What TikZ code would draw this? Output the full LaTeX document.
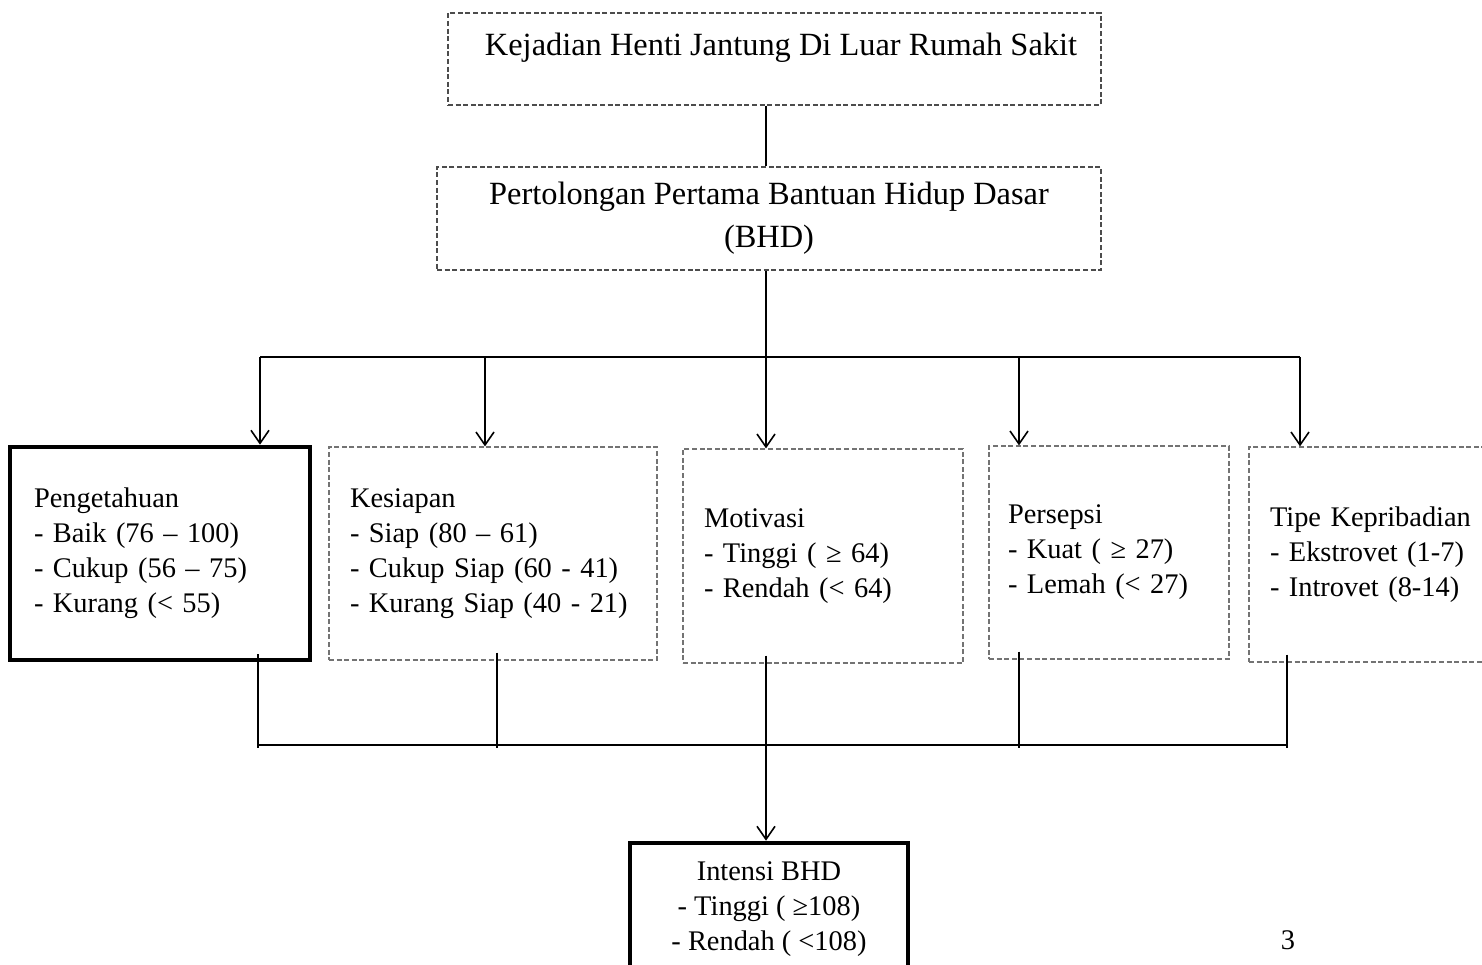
\documentclass[tikz,border=0pt]{standalone}
\usepackage{fontspec}
\setmainfont{Liberation Serif}
\usetikzlibrary{arrows.meta}
\begin{document}
\begin{tikzpicture}[x=0.5pt,y=-0.5pt,
  font=\fontsize{14.2pt}{17.5pt}\selectfont,
  bigtext/.style={font=\fontsize{16.2pt}{21.5pt}\selectfont},
  dbox/.style={draw=black!55, line width=0.6pt, dash pattern=on 2.5pt off 1.3pt, rectangle, inner sep=0pt},
  tbox/.style={draw=black, line width=2.3pt, rectangle, inner sep=0pt},
  conn/.style={line width=0.8pt},
  bus/.style={line width=1.4pt},
  arr/.style={line width=0.8pt, -{Straight Barb[length=6.5pt,width=9pt]}},
]
\useasboundingbox (0,0) rectangle (1482,964);

% top boxes
\node[dbox, draw=black!70, minimum width=326.5pt, minimum height=46pt] (k) at (774.5,59) {};
\node[bigtext] (kt) at (781,48) {Kejadian Henti Jantung Di Luar Rumah Sakit};
\node[dbox, draw=black!70, bigtext, minimum width=332pt, minimum height=51.5pt, align=center] (b2) at (769,218.5)
  {Pertolongan Pertama Bantuan Hidup Dasar\\(BHD)};

% factor boxes
\node[tbox, minimum width=150pt, minimum height=106.5pt, text width=126pt, align=left] (pg) at (160,553.5)
  {Pengetahuan\\- Baik (76 – 100)\\- Cukup (56 – 75)\\- Kurang (< 55)};
\node[dbox, minimum width=164pt, minimum height=106.5pt, text width=143pt, align=left] (ks) at (493,553.5)
  {Kesiapan\\- Siap (80 – 61)\\- Cukup Siap (60 - 41)\\- Kurang Siap (40 - 21)};
\node[dbox, minimum width=140pt, minimum height=107pt, text width=119pt, align=left] (mt) at (823,556)
  {Motivasi\\- Tinggi ( ≥ 64)\\- Rendah (< 64)};
\node[dbox, minimum width=120pt, minimum height=106.5pt, text width=101pt, align=left] (ps) at (1109,552.5)
  {Persepsi\\- Kuat ( ≥ 27)\\- Lemah (< 27)};
\node[dbox, minimum width=131pt, minimum height=107.5pt, text width=110pt, align=left] (tp) at (1380,554.5)
  {Tipe Kepribadian\\- Ekstrovet (1-7)\\- Introvet (8-14)};

% outcome box
\node[tbox, minimum width=139pt, minimum height=66pt, align=center] (ib) at (769,909)
  {Intensi BHD\\- Tinggi ( ≥108)\\- Rendah ( <108)};

\node (pn) at (1288,940) {3};

% upper connectors
\coordinate (j0) at (766,357);
\coordinate (t1) at (260,357);
\coordinate (t2) at (485,357);
\coordinate (t4) at (1019,357);
\coordinate (t5) at (1300,357);
\draw[conn] (k.south -| j0) -- (b2.north -| j0);
\draw[conn] (b2.south -| j0) -- (j0);
\draw[bus] (t1) -- (t5);
\draw[arr] (t1) -- (t1 |- pg.north);
\draw[arr] (t2) -- (t2 |- ks.north);
\draw[arr] (j0) -- (j0 |- mt.north);
\draw[arr] (t4) -- (t4 |- ps.north);
\draw[arr] (t5) -- (t5 |- tp.north);

% lower connectors
\coordinate (u1) at (258,745);
\coordinate (u2) at (497,745);
\coordinate (u3) at (766,745);
\coordinate (u4) at (1019,745);
\coordinate (u5) at (1287,745);
\draw[conn] ([yshift=4pt]u1 |- pg.south) -- ([yshift=-1.5pt]u1);
\draw[conn] ([yshift=4pt]u2 |- ks.south) -- ([yshift=-1.5pt]u2);
\draw[conn] ([yshift=4pt]u3 |- mt.south) -- (u3);
\draw[conn] ([yshift=4pt]u4 |- ps.south) -- ([yshift=-1.5pt]u4);
\draw[conn] ([yshift=4pt]u5 |- tp.south) -- ([yshift=-1.5pt]u5);
\draw[bus] (u1) -- (u5);
\draw[arr] (u3) -- (u3 |- ib.north);
\end{tikzpicture}
\end{document}
